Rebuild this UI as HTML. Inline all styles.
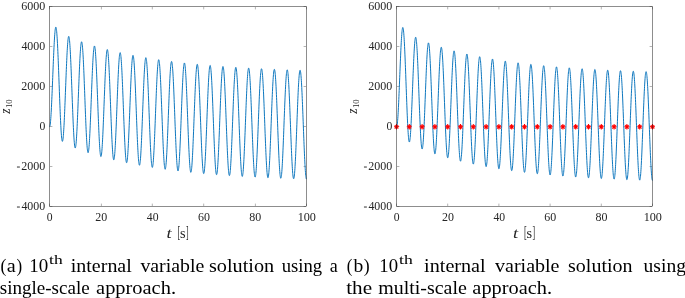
<!DOCTYPE html>
<html><head><meta charset="utf-8"><style>
html,body{margin:0;padding:0;background:#fff;}
body{width:685px;height:298px;overflow:hidden;}
svg{display:block;will-change:transform;}
text{font-family:"Liberation Serif",serif;}
.tl text{fill:#262626;}
.al text{fill:#262626;}
.al .zz{}
.cap text{fill:#000;}
</style></head><body>
<svg width="685" height="298" viewBox="0 0 685 298">
<path d="M50.0,206.50h2.4M306.0,206.50h-2.4M50.0,166.50h2.4M306.0,166.50h-2.4M50.0,126.50h2.4M306.0,126.50h-2.4M50.0,86.50h2.4M306.0,86.50h-2.4M50.0,46.50h2.4M306.0,46.50h-2.4M50.0,6.50h2.4M306.0,6.50h-2.4M49.50,206.0v-2.4M49.50,7.0v2.4M101.40,206.0v-2.4M101.40,7.0v2.4M152.30,206.0v-2.4M152.30,7.0v2.4M203.70,206.0v-2.4M203.70,7.0v2.4M255.40,206.0v-2.4M255.40,7.0v2.4M306.50,206.0v-2.4M306.50,7.0v2.4" stroke="#262626" stroke-width="0.35" fill="none"/>
<polyline points="49.50,126.50 49.63,126.65 49.76,126.57 49.89,126.28 50.01,125.78 50.14,125.06 50.27,124.14 50.40,123.02 50.53,121.69 50.66,120.18 50.78,118.48 50.91,116.61 51.04,114.57 51.17,112.37 51.30,110.02 51.43,107.53 51.56,104.91 51.68,102.18 51.81,99.34 51.94,96.40 52.07,93.38 52.20,90.30 52.33,87.16 52.46,83.97 52.58,80.76 52.71,77.53 52.84,74.30 52.97,71.08 53.10,67.89 53.23,64.73 53.35,61.62 53.48,58.58 53.61,55.62 53.74,52.74 53.87,49.97 54.00,47.31 54.13,44.77 54.25,42.37 54.38,40.12 54.51,38.02 54.64,36.08 54.77,34.31 54.90,32.72 55.03,31.32 55.15,30.12 55.28,29.11 55.41,28.30 55.54,27.70 55.67,27.30 55.80,27.12 55.92,27.16 56.05,27.40 56.18,27.86 56.31,28.53 56.44,29.40 56.57,30.49 56.70,31.78 56.82,33.26 56.95,34.94 57.08,36.81 57.21,38.85 57.34,41.07 57.47,43.45 57.60,45.99 57.72,48.67 57.85,51.48 57.98,54.43 58.11,57.48 58.24,60.64 58.37,63.89 58.50,67.22 58.62,70.61 58.75,74.05 58.88,77.54 59.01,81.05 59.14,84.57 59.27,88.09 59.39,91.60 59.52,95.08 59.65,98.51 59.78,101.90 59.91,105.21 60.04,108.45 60.17,111.59 60.29,114.63 60.42,117.56 60.55,120.35 60.68,123.01 60.81,125.53 60.94,127.88 61.06,130.07 61.19,132.08 61.32,133.92 61.45,135.56 61.58,137.01 61.71,138.26 61.84,139.30 61.96,140.13 62.09,140.76 62.22,141.17 62.35,141.36 62.48,141.34 62.61,141.11 62.74,140.66 62.86,140.00 62.99,139.14 63.12,138.06 63.25,136.79 63.38,135.32 63.51,133.67 63.63,131.83 63.76,129.82 63.89,127.64 64.02,125.31 64.15,122.83 64.28,120.21 64.41,117.46 64.53,114.60 64.66,111.64 64.79,108.58 64.92,105.44 65.05,102.24 65.18,98.98 65.31,95.68 65.43,92.36 65.56,89.02 65.69,85.68 65.82,82.36 65.95,79.06 66.08,75.80 66.20,72.59 66.33,69.45 66.46,66.38 66.59,63.41 66.72,60.54 66.85,57.79 66.98,55.16 67.10,52.67 67.23,50.32 67.36,48.13 67.49,46.11 67.62,44.26 67.75,42.59 67.88,41.10 68.00,39.81 68.13,38.72 68.26,37.84 68.39,37.16 68.52,36.69 68.65,36.43 68.78,36.39 68.90,36.56 69.03,36.95 69.16,37.55 69.29,38.35 69.42,39.37 69.55,40.59 69.67,42.01 69.80,43.62 69.93,45.42 70.06,47.40 70.19,49.56 70.32,51.88 70.45,54.35 70.57,56.98 70.70,59.74 70.83,62.62 70.96,65.62 71.09,68.72 71.22,71.92 71.34,75.19 71.47,78.53 71.60,81.92 71.73,85.35 71.86,88.81 71.99,92.28 72.12,95.75 72.24,99.21 72.37,102.64 72.50,106.03 72.63,109.36 72.76,112.63 72.89,115.82 73.02,118.92 73.14,121.92 73.27,124.80 73.40,127.55 73.53,130.17 73.66,132.64 73.79,134.95 73.91,137.10 74.04,139.08 74.17,140.87 74.30,142.47 74.43,143.88 74.56,145.10 74.69,146.10 74.81,146.90 74.94,147.49 75.07,147.86 75.20,148.02 75.33,147.97 75.46,147.70 75.59,147.22 75.71,146.53 75.84,145.63 75.97,144.52 76.10,143.22 76.23,141.72 76.36,140.03 76.48,138.16 76.61,136.12 76.74,133.91 76.87,131.55 77.00,129.04 77.13,126.39 77.26,123.62 77.38,120.73 77.51,117.74 77.64,114.65 77.77,111.49 77.90,108.26 78.03,104.98 78.16,101.65 78.28,98.30 78.41,94.94 78.54,91.58 78.67,88.23 78.80,84.90 78.93,81.62 79.06,78.39 79.18,75.22 79.31,72.14 79.44,69.14 79.57,66.25 79.70,63.47 79.83,60.82 79.95,58.31 80.08,55.94 80.21,53.73 80.34,51.69 80.47,49.82 80.60,48.12 80.73,46.62 80.85,45.31 80.98,44.20 81.11,43.30 81.24,42.60 81.37,42.11 81.50,41.84 81.62,41.77 81.75,41.93 81.88,42.30 82.01,42.88 82.14,43.67 82.27,44.67 82.40,45.87 82.52,47.27 82.65,48.87 82.78,50.65 82.91,52.61 83.04,54.75 83.17,57.06 83.30,59.52 83.42,62.12 83.55,64.87 83.68,67.74 83.81,70.72 83.94,73.81 84.07,76.99 84.19,80.24 84.32,83.57 84.45,86.94 84.58,90.36 84.71,93.81 84.84,97.26 84.97,100.72 85.09,104.16 85.22,107.58 85.35,110.96 85.48,114.28 85.61,117.54 85.74,120.71 85.87,123.80 85.99,126.78 86.12,129.65 86.25,132.39 86.38,135.00 86.51,137.45 86.64,139.75 86.77,141.89 86.89,143.85 87.02,145.63 87.15,147.23 87.28,148.62 87.41,149.82 87.54,150.82 87.66,151.61 87.79,152.18 87.92,152.55 88.05,152.69 88.18,152.63 88.31,152.35 88.44,151.86 88.56,151.15 88.69,150.24 88.82,149.13 88.95,147.81 89.08,146.30 89.21,144.61 89.34,142.73 89.46,140.68 89.59,138.46 89.72,136.09 89.85,133.56 89.98,130.91 90.11,128.12 90.23,125.22 90.36,122.22 90.49,119.13 90.62,115.96 90.75,112.72 90.88,109.42 91.01,106.09 91.13,102.73 91.26,99.36 91.39,95.99 91.52,92.63 91.65,89.29 91.78,86.00 91.91,82.76 92.03,79.59 92.16,76.49 92.29,73.49 92.42,70.59 92.55,67.81 92.68,65.15 92.80,62.62 92.93,60.25 93.06,58.03 93.19,55.98 93.32,54.10 93.45,52.40 93.58,50.88 93.70,49.57 93.83,48.45 93.96,47.54 94.09,46.83 94.22,46.33 94.35,46.05 94.47,45.98 94.60,46.13 94.73,46.49 94.86,47.06 94.99,47.84 95.12,48.83 95.25,50.03 95.37,51.42 95.50,53.01 95.63,54.79 95.76,56.75 95.89,58.88 96.02,61.17 96.15,63.63 96.27,66.23 96.40,68.96 96.53,71.82 96.66,74.80 96.79,77.88 96.92,81.05 97.05,84.30 97.17,87.62 97.30,90.99 97.43,94.40 97.56,97.84 97.69,101.29 97.82,104.74 97.94,108.17 98.07,111.58 98.20,114.95 98.33,118.27 98.46,121.52 98.59,124.69 98.72,127.77 98.84,130.74 98.97,133.61 99.10,136.34 99.23,138.94 99.36,141.39 99.49,143.68 99.62,145.81 99.74,147.77 99.87,149.54 100.00,151.13 100.13,152.52 100.26,153.72 100.39,154.70 100.51,155.48 100.64,156.05 100.77,156.41 100.90,156.55 101.03,156.48 101.16,156.20 101.29,155.70 101.41,154.99 101.54,154.07 101.67,152.95 101.80,151.63 101.93,150.11 102.06,148.41 102.19,146.53 102.31,144.47 102.44,142.25 102.57,139.87 102.70,137.34 102.83,134.68 102.96,131.89 103.08,128.98 103.21,125.97 103.34,122.87 103.47,119.70 103.60,116.45 103.73,113.15 103.86,109.81 103.98,106.45 104.11,103.07 104.24,99.69 104.37,96.33 104.50,92.99 104.63,89.69 104.75,86.44 104.88,83.26 105.01,80.16 105.14,77.16 105.27,74.25 105.40,71.46 105.53,68.80 105.65,66.27 105.78,63.89 105.91,61.66 106.04,59.60 106.17,57.72 106.30,56.01 106.43,54.49 106.55,53.17 106.68,52.05 106.81,51.13 106.94,50.42 107.07,49.92 107.20,49.63 107.33,49.55 107.45,49.69 107.58,50.05 107.71,50.62 107.84,51.39 107.97,52.38 108.10,53.57 108.22,54.96 108.35,56.54 108.48,58.31 108.61,60.27 108.74,62.39 108.87,64.68 109.00,67.13 109.12,69.72 109.25,72.45 109.38,75.31 109.51,78.28 109.64,81.36 109.77,84.52 109.89,87.77 110.02,91.08 110.15,94.45 110.28,97.85 110.41,101.28 110.54,104.73 110.67,108.17 110.79,111.61 110.92,115.01 111.05,118.37 111.18,121.69 111.31,124.93 111.44,128.10 111.57,131.17 111.69,134.14 111.82,137.00 111.95,139.73 112.08,142.32 112.21,144.77 112.34,147.06 112.47,149.18 112.59,151.13 112.72,152.90 112.85,154.48 112.98,155.87 113.11,157.06 113.24,158.04 113.36,158.82 113.49,159.38 113.62,159.74 113.75,159.87 113.88,159.80 114.01,159.51 114.14,159.00 114.26,158.29 114.39,157.37 114.52,156.24 114.65,154.92 114.78,153.40 114.91,151.69 115.03,149.80 115.16,147.74 115.29,145.51 115.42,143.12 115.55,140.59 115.68,137.92 115.81,135.13 115.93,132.22 116.06,129.21 116.19,126.10 116.32,122.92 116.45,119.67 116.58,116.37 116.71,113.03 116.83,109.66 116.96,106.27 117.09,102.89 117.22,99.52 117.35,96.17 117.48,92.87 117.61,89.62 117.73,86.44 117.86,83.33 117.99,80.32 118.12,77.41 118.25,74.62 118.38,71.95 118.50,69.41 118.63,67.03 118.76,64.80 118.89,62.74 119.02,60.85 119.15,59.14 119.28,57.61 119.40,56.29 119.53,55.16 119.66,54.24 119.79,53.52 119.92,53.01 120.05,52.72 120.18,52.64 120.30,52.78 120.43,53.13 120.56,53.69 120.69,54.47 120.82,55.45 120.95,56.63 121.07,58.02 121.20,59.60 121.33,61.36 121.46,63.31 121.59,65.43 121.72,67.72 121.85,70.16 121.97,72.75 122.10,75.48 122.23,78.33 122.36,81.30 122.49,84.37 122.62,87.53 122.74,90.77 122.87,94.08 123.00,97.44 123.13,100.84 123.26,104.27 123.39,107.71 123.52,111.15 123.64,114.58 123.77,117.98 123.90,121.34 124.03,124.65 124.16,127.89 124.29,131.05 124.42,134.12 124.54,137.09 124.67,139.94 124.80,142.66 124.93,145.25 125.06,147.69 125.19,149.98 125.31,152.10 125.44,154.05 125.57,155.81 125.70,157.39 125.83,158.77 125.96,159.96 126.09,160.94 126.21,161.71 126.34,162.27 126.47,162.62 126.60,162.75 126.73,162.67 126.86,162.38 126.99,161.87 127.11,161.15 127.24,160.22 127.37,159.09 127.50,157.76 127.63,156.24 127.76,154.53 127.89,152.64 128.01,150.57 128.14,148.34 128.27,145.95 128.40,143.41 128.53,140.74 128.66,137.94 128.78,135.03 128.91,132.01 129.04,128.90 129.17,125.72 129.30,122.46 129.43,119.16 129.56,115.81 129.68,112.44 129.81,109.05 129.94,105.66 130.07,102.29 130.20,98.94 130.33,95.63 130.45,92.38 130.58,89.19 130.71,86.08 130.84,83.07 130.97,80.15 131.10,77.35 131.23,74.68 131.35,72.15 131.48,69.76 131.61,67.52 131.74,65.46 131.87,63.56 132.00,61.85 132.13,60.32 132.25,58.99 132.38,57.86 132.51,56.93 132.64,56.21 132.77,55.70 132.90,55.41 133.03,55.32 133.15,55.46 133.28,55.80 133.41,56.36 133.54,57.13 133.67,58.11 133.80,59.29 133.92,60.67 134.05,62.25 134.18,64.01 134.31,65.95 134.44,68.07 134.57,70.36 134.70,72.79 134.82,75.38 134.95,78.10 135.08,80.95 135.21,83.92 135.34,86.98 135.47,90.14 135.59,93.38 135.72,96.68 135.85,100.04 135.98,103.44 136.11,106.86 136.24,110.30 136.37,113.74 136.49,117.16 136.62,120.56 136.75,123.91 136.88,127.22 137.01,130.45 137.14,133.61 137.27,136.68 137.39,139.64 137.52,142.49 137.65,145.21 137.78,147.80 137.91,150.24 138.04,152.52 138.16,154.63 138.29,156.58 138.42,158.34 138.55,159.91 138.68,161.29 138.81,162.47 138.94,163.45 139.06,164.22 139.19,164.78 139.32,165.12 139.45,165.25 139.58,165.17 139.71,164.87 139.84,164.36 139.96,163.64 140.09,162.71 140.22,161.57 140.35,160.24 140.48,158.71 140.61,157.00 140.74,155.10 140.86,153.03 140.99,150.79 141.12,148.40 141.25,145.86 141.38,143.19 141.51,140.39 141.63,137.47 141.76,134.45 141.89,131.34 142.02,128.15 142.15,124.89 142.28,121.58 142.41,118.23 142.53,114.85 142.66,111.46 142.79,108.07 142.92,104.69 143.05,101.34 143.18,98.03 143.31,94.78 143.43,91.59 143.56,88.47 143.69,85.45 143.82,82.54 143.95,79.73 144.08,77.06 144.20,74.52 144.33,72.12 144.46,69.89 144.59,67.82 144.72,65.92 144.85,64.20 144.98,62.68 145.10,61.34 145.23,60.21 145.36,59.27 145.49,58.55 145.62,58.04 145.75,57.74 145.88,57.65 146.00,57.78 146.13,58.13 146.26,58.68 146.39,59.45 146.52,60.42 146.65,61.60 146.77,62.98 146.90,64.55 147.03,66.31 147.16,68.25 147.29,70.37 147.42,72.65 147.55,75.08 147.67,77.66 147.80,80.38 147.93,83.23 148.06,86.19 148.19,89.25 148.32,92.41 148.44,95.64 148.57,98.94 148.70,102.30 148.83,105.69 148.96,109.11 149.09,112.55 149.22,115.98 149.34,119.40 149.47,122.80 149.60,126.15 149.73,129.45 149.86,132.68 149.99,135.84 150.12,138.90 150.24,141.86 150.37,144.71 150.50,147.43 150.63,150.01 150.76,152.44 150.89,154.72 151.01,156.84 151.14,158.78 151.27,160.54 151.40,162.11 151.53,163.48 151.66,164.66 151.79,165.63 151.91,166.40 152.04,166.95 152.17,167.29 152.30,167.42 152.43,167.33 152.56,167.03 152.69,166.52 152.81,165.79 152.94,164.86 153.07,163.73 153.20,162.39 153.33,160.86 153.46,159.14 153.59,157.24 153.71,155.17 153.84,152.93 153.97,150.53 154.10,147.99 154.23,145.31 154.36,142.51 154.48,139.59 154.61,136.57 154.74,133.45 154.87,130.26 155.00,127.00 155.13,123.69 155.26,120.33 155.38,116.95 155.51,113.56 155.64,110.16 155.77,106.78 155.90,103.43 156.03,100.12 156.16,96.86 156.28,93.66 156.41,90.55 156.54,87.53 156.67,84.61 156.80,81.80 156.93,79.12 157.05,76.58 157.18,74.18 157.31,71.94 157.44,69.87 157.57,67.97 157.70,66.25 157.83,64.72 157.95,63.38 158.08,62.24 158.21,61.31 158.34,60.58 158.47,60.07 158.60,59.77 158.72,59.68 158.85,59.80 158.98,60.14 159.11,60.70 159.24,61.46 159.37,62.43 159.50,63.61 159.62,64.98 159.75,66.55 159.88,68.31 160.01,70.25 160.14,72.36 160.27,74.64 160.40,77.07 160.52,79.65 160.65,82.37 160.78,85.21 160.91,88.17 161.04,91.23 161.17,94.38 161.30,97.61 161.42,100.91 161.55,104.26 161.68,107.65 161.81,111.07 161.94,114.50 162.07,117.93 162.19,121.35 162.32,124.74 162.45,128.09 162.58,131.39 162.71,134.62 162.84,137.77 162.97,140.83 163.09,143.79 163.22,146.63 163.35,149.35 163.48,151.93 163.61,154.36 163.74,156.64 163.87,158.75 163.99,160.69 164.12,162.44 164.25,164.01 164.38,165.39 164.51,166.56 164.64,167.53 164.76,168.29 164.89,168.84 165.02,169.18 165.15,169.31 165.28,169.22 165.41,168.91 165.54,168.40 165.66,167.67 165.79,166.74 165.92,165.60 166.05,164.26 166.18,162.72 166.31,161.00 166.44,159.10 166.56,157.03 166.69,154.78 166.82,152.39 166.95,149.84 167.08,147.16 167.21,144.35 167.33,141.43 167.46,138.41 167.59,135.29 167.72,132.09 167.85,128.83 167.98,125.52 168.11,122.16 168.23,118.78 168.36,115.38 168.49,111.98 168.62,108.60 168.75,105.24 168.88,101.93 169.00,98.67 169.13,95.47 169.26,92.35 169.39,89.33 169.52,86.40 169.65,83.60 169.78,80.91 169.90,78.37 170.03,75.97 170.16,73.73 170.29,71.65 170.42,69.75 170.55,68.03 170.68,66.50 170.80,65.16 170.93,64.02 171.06,63.08 171.19,62.35 171.32,61.83 171.45,61.53 171.57,61.44 171.70,61.56 171.83,61.90 171.96,62.45 172.09,63.21 172.22,64.18 172.35,65.35 172.47,66.72 172.60,68.29 172.73,70.05 172.86,71.98 172.99,74.09 173.12,76.36 173.25,78.80 173.37,81.37 173.50,84.09 173.63,86.93 173.76,89.88 173.89,92.94 174.02,96.09 174.14,99.32 174.27,102.62 174.40,105.97 174.53,109.35 174.66,112.77 174.79,116.20 174.92,119.63 175.04,123.04 175.17,126.43 175.30,129.78 175.43,133.08 175.56,136.30 175.69,139.45 175.82,142.51 175.94,145.47 176.07,148.31 176.20,151.02 176.33,153.60 176.46,156.03 176.59,158.30 176.72,160.41 176.84,162.35 176.97,164.10 177.10,165.67 177.23,167.04 177.36,168.21 177.49,169.18 177.61,169.94 177.74,170.49 177.87,170.83 178.00,170.95 178.13,170.86 178.26,170.55 178.39,170.03 178.51,169.30 178.64,168.36 178.77,167.22 178.90,165.88 179.03,164.35 179.16,162.62 179.28,160.72 179.41,158.64 179.54,156.40 179.67,154.00 179.80,151.45 179.93,148.77 180.06,145.96 180.18,143.03 180.31,140.00 180.44,136.89 180.57,133.69 180.70,130.42 180.83,127.10 180.96,123.75 181.08,120.36 181.21,116.96 181.34,113.56 181.47,110.18 181.60,106.82 181.73,103.50 181.85,100.24 181.98,97.04 182.11,93.92 182.24,90.89 182.37,87.97 182.50,85.16 182.63,82.47 182.75,79.93 182.88,77.53 183.01,75.28 183.14,73.20 183.27,71.30 183.40,69.57 183.53,68.04 183.65,66.70 183.78,65.55 183.91,64.62 184.04,63.88 184.17,63.37 184.30,63.06 184.43,62.96 184.55,63.09 184.68,63.42 184.81,63.97 184.94,64.73 185.07,65.70 185.20,66.87 185.32,68.24 185.45,69.80 185.58,71.55 185.71,73.49 185.84,75.60 185.97,77.87 186.10,80.30 186.22,82.87 186.35,85.58 186.48,88.42 186.61,91.38 186.74,94.43 186.87,97.58 187.00,100.81 187.12,104.10 187.25,107.45 187.38,110.83 187.51,114.25 187.64,117.67 187.77,121.10 187.89,124.52 188.02,127.90 188.15,131.25 188.28,134.54 188.41,137.77 188.54,140.92 188.67,143.97 188.79,146.92 188.92,149.76 189.05,152.47 189.18,155.05 189.31,157.48 189.44,159.75 189.56,161.86 189.69,163.79 189.82,165.54 189.95,167.11 190.08,168.47 190.21,169.64 190.34,170.61 190.46,171.37 190.59,171.92 190.72,172.25 190.85,172.37 190.98,172.28 191.11,171.97 191.24,171.45 191.36,170.72 191.49,169.78 191.62,168.63 191.75,167.29 191.88,165.75 192.01,164.03 192.14,162.12 192.26,160.04 192.39,157.80 192.52,155.39 192.65,152.85 192.78,150.16 192.91,147.35 193.03,144.42 193.16,141.39 193.29,138.27 193.42,135.07 193.55,131.81 193.68,128.49 193.81,125.13 193.93,121.74 194.06,118.34 194.19,114.94 194.32,111.55 194.45,108.19 194.58,104.87 194.70,101.60 194.83,98.40 194.96,95.28 195.09,92.25 195.22,89.33 195.35,86.51 195.48,83.83 195.60,81.28 195.73,78.88 195.86,76.63 195.99,74.55 196.12,72.64 196.25,70.92 196.38,69.38 196.50,68.04 196.63,66.89 196.76,65.95 196.89,65.22 197.02,64.70 197.15,64.39 197.27,64.29 197.40,64.41 197.53,64.75 197.66,65.29 197.79,66.05 197.92,67.01 198.05,68.18 198.17,69.55 198.30,71.12 198.43,72.87 198.56,74.80 198.69,76.90 198.82,79.17 198.95,81.60 199.07,84.17 199.20,86.88 199.33,89.72 199.46,92.67 199.59,95.73 199.72,98.87 199.84,102.10 199.97,105.39 200.10,108.73 200.23,112.12 200.36,115.53 200.49,118.96 200.62,122.38 200.74,125.79 200.87,129.18 201.00,132.52 201.13,135.81 201.26,139.04 201.39,142.19 201.52,145.24 201.64,148.19 201.77,151.03 201.90,153.74 202.03,156.31 202.16,158.74 202.29,161.01 202.41,163.11 202.54,165.04 202.67,166.79 202.80,168.36 202.93,169.72 203.06,170.89 203.19,171.86 203.31,172.61 203.44,173.16 203.57,173.49 203.70,173.61 203.83,173.51 203.96,173.20 204.09,172.68 204.21,171.95 204.34,171.01 204.47,169.86 204.60,168.52 204.73,166.98 204.86,165.25 204.98,163.34 205.11,161.26 205.24,159.01 205.37,156.61 205.50,154.06 205.63,151.37 205.76,148.56 205.88,145.63 206.01,142.60 206.14,139.48 206.27,136.28 206.40,133.01 206.53,129.69 206.66,126.32 206.78,122.94 206.91,119.53 207.04,116.13 207.17,112.74 207.30,109.38 207.43,106.06 207.56,102.79 207.68,99.59 207.81,96.47 207.94,93.43 208.07,90.50 208.20,87.69 208.33,85.00 208.45,82.45 208.58,80.05 208.71,77.80 208.84,75.72 208.97,73.81 209.10,72.08 209.23,70.54 209.35,69.20 209.48,68.05 209.61,67.11 209.74,66.38 209.87,65.85 210.00,65.54 210.12,65.45 210.25,65.56 210.38,65.90 210.51,66.44 210.64,67.20 210.77,68.16 210.90,69.33 211.02,70.69 211.15,72.26 211.28,74.00 211.41,75.93 211.54,78.04 211.67,80.31 211.80,82.73 211.92,85.31 212.05,88.01 212.18,90.85 212.31,93.80 212.44,96.85 212.57,100.00 212.69,103.22 212.82,106.51 212.95,109.85 213.08,113.24 213.21,116.65 213.34,120.07 213.47,123.49 213.59,126.90 213.72,130.29 213.85,133.63 213.98,136.92 214.11,140.14 214.24,143.29 214.37,146.34 214.49,149.29 214.62,152.13 214.75,154.83 214.88,157.41 215.01,159.83 215.14,162.10 215.27,164.20 215.39,166.13 215.52,167.88 215.65,169.44 215.78,170.81 215.91,171.97 216.04,172.94 216.16,173.69 216.29,174.24 216.42,174.57 216.55,174.69 216.68,174.59 216.81,174.28 216.94,173.75 217.06,173.02 217.19,172.07 217.32,170.93 217.45,169.58 217.58,168.04 217.71,166.31 217.84,164.40 217.96,162.32 218.09,160.07 218.22,157.67 218.35,155.11 218.48,152.43 218.61,149.61 218.73,146.68 218.86,143.65 218.99,140.52 219.12,137.32 219.25,134.05 219.38,130.73 219.51,127.37 219.63,123.97 219.76,120.57 219.89,117.17 220.02,113.78 220.15,110.41 220.28,107.09 220.41,103.82 220.53,100.62 220.66,97.49 220.79,94.46 220.92,91.53 221.05,88.72 221.18,86.03 221.30,83.47 221.43,81.07 221.56,78.82 221.69,76.74 221.82,74.83 221.95,73.10 222.08,71.56 222.20,70.21 222.33,69.06 222.46,68.12 222.59,67.38 222.72,66.86 222.85,66.55 222.98,66.45 223.10,66.57 223.23,66.90 223.36,67.44 223.49,68.19 223.62,69.16 223.75,70.32 223.87,71.69 224.00,73.25 224.13,74.99 224.26,76.92 224.39,79.03 224.52,81.29 224.65,83.72 224.77,86.29 224.90,89.00 225.03,91.83 225.16,94.78 225.29,97.83 225.42,100.97 225.55,104.19 225.67,107.48 225.80,110.83 225.93,114.21 226.06,117.62 226.19,121.04 226.32,124.46 226.44,127.87 226.57,131.25 226.70,134.59 226.83,137.88 226.96,141.10 227.09,144.25 227.22,147.30 227.34,150.25 227.47,153.08 227.60,155.79 227.73,158.36 227.86,160.78 227.99,163.05 228.11,165.15 228.24,167.08 228.37,168.83 228.50,170.38 228.63,171.75 228.76,172.92 228.89,173.88 229.01,174.63 229.14,175.17 229.27,175.50 229.40,175.62 229.53,175.52 229.66,175.21 229.79,174.68 229.91,173.95 230.04,173.00 230.17,171.85 230.30,170.51 230.43,168.97 230.56,167.24 230.69,165.32 230.81,163.24 230.94,160.99 231.07,158.58 231.20,156.03 231.33,153.34 231.46,150.52 231.58,147.59 231.71,144.56 231.84,141.43 231.97,138.23 232.10,134.96 232.23,131.63 232.36,128.27 232.48,124.88 232.61,121.47 232.74,118.07 232.87,114.68 233.00,111.31 233.13,107.99 233.25,104.72 233.38,101.51 233.51,98.39 233.64,95.35 233.77,92.42 233.90,89.60 234.03,86.91 234.15,84.36 234.28,81.96 234.41,79.70 234.54,77.62 234.67,75.71 234.80,73.98 234.93,72.44 235.05,71.09 235.18,69.94 235.31,69.00 235.44,68.26 235.57,67.73 235.70,67.42 235.82,67.32 235.95,67.44 236.08,67.76 236.21,68.31 236.34,69.06 236.47,70.02 236.60,71.19 236.72,72.55 236.85,74.11 236.98,75.85 237.11,77.78 237.24,79.88 237.37,82.15 237.50,84.57 237.62,87.14 237.75,89.85 237.88,92.68 238.01,95.63 238.14,98.68 238.27,101.82 238.40,105.04 238.52,108.33 238.65,111.67 238.78,115.05 238.91,118.46 239.04,121.88 239.17,125.30 239.29,128.71 239.42,132.09 239.55,135.43 239.68,138.72 239.81,141.94 239.94,145.08 240.07,148.13 240.19,151.08 240.32,153.91 240.45,156.62 240.58,159.18 240.71,161.61 240.84,163.87 240.97,165.97 241.09,167.90 241.22,169.65 241.35,171.20 241.48,172.57 241.61,173.73 241.74,174.69 241.86,175.45 241.99,175.99 242.12,176.32 242.25,176.43 242.38,176.33 242.51,176.02 242.64,175.49 242.76,174.75 242.89,173.81 243.02,172.66 243.15,171.31 243.28,169.77 243.41,168.04 243.53,166.12 243.66,164.04 243.79,161.79 243.92,159.38 244.05,156.83 244.18,154.14 244.31,151.32 244.43,148.39 244.56,145.35 244.69,142.22 244.82,139.02 244.95,135.75 245.08,132.42 245.21,129.06 245.33,125.66 245.46,122.26 245.59,118.85 245.72,115.46 245.85,112.09 245.98,108.77 246.10,105.50 246.23,102.29 246.36,99.16 246.49,96.13 246.62,93.20 246.75,90.38 246.88,87.69 247.00,85.13 247.13,82.72 247.26,80.47 247.39,78.39 247.52,76.48 247.65,74.74 247.78,73.20 247.90,71.85 248.03,70.70 248.16,69.76 248.29,69.02 248.42,68.49 248.55,68.18 248.68,68.08 248.80,68.19 248.93,68.52 249.06,69.06 249.19,69.81 249.32,70.77 249.45,71.94 249.57,73.30 249.70,74.86 249.83,76.60 249.96,78.53 250.09,80.63 250.22,82.89 250.35,85.32 250.47,87.88 250.60,90.59 250.73,93.42 250.86,96.37 250.99,99.42 251.12,102.56 251.25,105.78 251.37,109.06 251.50,112.40 251.63,115.78 251.76,119.19 251.89,122.61 252.02,126.03 252.14,129.44 252.27,132.82 252.40,136.16 252.53,139.44 252.66,142.66 252.79,145.80 252.92,148.85 253.04,151.80 253.17,154.63 253.30,157.33 253.43,159.90 253.56,162.32 253.69,164.59 253.81,166.69 253.94,168.62 254.07,170.36 254.20,171.92 254.33,173.28 254.46,174.44 254.59,175.40 254.71,176.15 254.84,176.70 254.97,177.02 255.10,177.14 255.23,177.04 255.36,176.72 255.49,176.19 255.61,175.46 255.74,174.51 255.87,173.36 256.00,172.01 256.13,170.47 256.26,168.73 256.38,166.82 256.51,164.73 256.64,162.48 256.77,160.07 256.90,157.52 257.03,154.83 257.16,152.01 257.28,149.08 257.41,146.04 257.54,142.91 257.67,139.71 257.80,136.43 257.93,133.11 258.06,129.74 258.18,126.35 258.31,122.94 258.44,119.53 258.57,116.14 258.70,112.77 258.83,109.45 258.95,106.17 259.08,102.97 259.21,99.84 259.34,96.80 259.47,93.87 259.60,91.05 259.73,88.36 259.85,85.80 259.98,83.39 260.11,81.14 260.24,79.05 260.37,77.14 260.50,75.41 260.63,73.87 260.75,72.52 260.88,71.36 261.01,70.42 261.14,69.68 261.27,69.15 261.40,68.84 261.52,68.73 261.65,68.85 261.78,69.18 261.91,69.72 262.04,70.47 262.17,71.43 262.30,72.59 262.42,73.95 262.55,75.51 262.68,77.25 262.81,79.18 262.94,81.28 263.07,83.54 263.20,85.96 263.32,88.53 263.45,91.23 263.58,94.06 263.71,97.01 263.84,100.06 263.97,103.20 264.10,106.42 264.22,109.70 264.35,113.04 264.48,116.42 264.61,119.83 264.74,123.25 264.87,126.66 264.99,130.07 265.12,133.45 265.25,136.79 265.38,140.07 265.51,143.29 265.64,146.43 265.77,149.48 265.89,152.43 266.02,155.26 266.15,157.96 266.28,160.53 266.41,162.95 266.54,165.21 266.66,167.31 266.79,169.24 266.92,170.98 267.05,172.54 267.18,173.90 267.31,175.06 267.44,176.02 267.56,176.77 267.69,177.31 267.82,177.64 267.95,177.75 268.08,177.65 268.21,177.33 268.34,176.80 268.46,176.07 268.59,175.12 268.72,173.97 268.85,172.62 268.98,171.07 269.11,169.34 269.24,167.43 269.36,165.34 269.49,163.09 269.62,160.68 269.75,158.12 269.88,155.43 270.01,152.61 270.13,149.67 270.26,146.64 270.39,143.51 270.52,140.30 270.65,137.03 270.78,133.70 270.91,130.33 271.03,126.94 271.16,123.53 271.29,120.12 271.42,116.73 271.55,113.36 271.68,110.03 271.81,106.76 271.93,103.55 272.06,100.42 272.19,97.39 272.32,94.45 272.45,91.63 272.58,88.94 272.70,86.38 272.83,83.97 272.96,81.72 273.09,79.63 273.22,77.72 273.35,75.99 273.48,74.44 273.60,73.09 273.73,71.94 273.86,70.99 273.99,70.25 274.12,69.72 274.25,69.41 274.38,69.31 274.50,69.42 274.63,69.75 274.76,70.28 274.89,71.04 275.02,71.99 275.15,73.16 275.27,74.52 275.40,76.07 275.53,77.82 275.66,79.74 275.79,81.84 275.92,84.10 276.05,86.52 276.17,89.09 276.30,91.79 276.43,94.62 276.56,97.57 276.69,100.62 276.82,103.75 276.94,106.97 277.07,110.26 277.20,113.60 277.33,116.97 277.46,120.38 277.59,123.80 277.72,127.22 277.84,130.62 277.97,134.00 278.10,137.34 278.23,140.62 278.36,143.84 278.49,146.98 278.62,150.03 278.74,152.97 278.87,155.80 279.00,158.50 279.13,161.07 279.26,163.49 279.39,165.75 279.51,167.85 279.64,169.78 279.77,171.52 279.90,173.07 280.03,174.44 280.16,175.60 280.29,176.56 280.41,177.31 280.54,177.84 280.67,178.17 280.80,178.28 280.93,178.18 281.06,177.86 281.19,177.34 281.31,176.59 281.44,175.65 281.57,174.50 281.70,173.14 281.83,171.60 281.96,169.87 282.09,167.95 282.21,165.86 282.34,163.61 282.47,161.20 282.60,158.64 282.73,155.95 282.86,153.13 282.98,150.19 283.11,147.16 283.24,144.03 283.37,140.82 283.50,137.54 283.63,134.22 283.76,130.85 283.88,127.45 284.01,124.04 284.14,120.64 284.27,117.24 284.40,113.87 284.53,110.55 284.65,107.27 284.78,104.06 284.91,100.93 285.04,97.89 285.17,94.96 285.30,92.14 285.43,89.45 285.55,86.89 285.68,84.48 285.81,82.23 285.94,80.14 286.07,78.22 286.20,76.49 286.33,74.94 286.45,73.59 286.58,72.44 286.71,71.49 286.84,70.75 286.97,70.22 287.10,69.91 287.23,69.80 287.35,69.91 287.48,70.24 287.61,70.78 287.74,71.53 287.87,72.49 288.00,73.65 288.12,75.01 288.25,76.56 288.38,78.31 288.51,80.23 288.64,82.33 288.77,84.59 288.90,87.01 289.02,89.58 289.15,92.28 289.28,95.11 289.41,98.05 289.54,101.10 289.67,104.24 289.80,107.46 289.92,110.74 290.05,114.08 290.18,117.45 290.31,120.86 290.44,124.28 290.57,127.69 290.69,131.10 290.82,134.48 290.95,137.81 291.08,141.10 291.21,144.31 291.34,147.45 291.47,150.50 291.59,153.44 291.72,156.27 291.85,158.98 291.98,161.54 292.11,163.96 292.24,166.22 292.37,168.32 292.49,170.24 292.62,171.99 292.75,173.54 292.88,174.90 293.01,176.06 293.14,177.02 293.26,177.77 293.39,178.31 293.52,178.63 293.65,178.75 293.78,178.64 293.91,178.33 294.04,177.80 294.16,177.06 294.29,176.11 294.42,174.95 294.55,173.60 294.68,172.06 294.81,170.32 294.94,168.41 295.06,166.32 295.19,164.06 295.32,161.65 295.45,159.10 295.58,156.40 295.71,153.58 295.83,150.65 295.96,147.61 296.09,144.48 296.22,141.27 296.35,137.99 296.48,134.67 296.61,131.30 296.73,127.90 296.86,124.49 296.99,121.08 297.12,117.69 297.25,114.32 297.38,110.99 297.50,107.71 297.63,104.51 297.76,101.38 297.89,98.34 298.02,95.40 298.15,92.58 298.28,89.89 298.40,87.33 298.53,84.92 298.66,82.66 298.79,80.58 298.92,78.66 299.05,76.93 299.18,75.38 299.30,74.03 299.43,72.87 299.56,71.93 299.69,71.18 299.82,70.65 299.95,70.34 300.07,70.23 300.20,70.35 300.33,70.67 300.46,71.21 300.59,71.96 300.72,72.91 300.85,74.08 300.97,75.44 301.10,76.99 301.23,78.73 301.36,80.66 301.49,82.75 301.62,85.02 301.75,87.43 301.87,90.00 302.00,92.70 302.13,95.53 302.26,98.47 302.39,101.52 302.52,104.66 302.64,107.88 302.77,111.16 302.90,114.50 303.03,117.87 303.16,121.28 303.29,124.69 303.42,128.11 303.54,131.51 303.67,134.89 303.80,138.23 303.93,141.51 304.06,144.73 304.19,147.87 304.32,150.91 304.44,153.86 304.57,156.68 304.70,159.39 304.83,161.95 304.96,164.37 305.09,166.63 305.22,168.73 305.34,170.65 305.47,172.39 305.60,173.95 305.73,175.31 305.86,176.47 305.99,177.43 306.11,178.17 306.24,178.71 306.37,179.04 306.50,179.15" fill="none" stroke="#0070bb" stroke-width="0.95" stroke-linejoin="round"/>
<rect x="49.5" y="6.5" width="257.0" height="200.0" fill="none" stroke="#262626" stroke-width="0.52"/>
<g class="tl"><text x="21.41" y="209.80" font-size="12.2" textLength="23.81" lengthAdjust="spacingAndGlyphs">4000</text><rect x="16.95" y="206.55" width="2.9" height="0.95" fill="#262626"/><text x="21.17" y="169.80" font-size="12.2" textLength="24.06" lengthAdjust="spacingAndGlyphs">2000</text><rect x="16.95" y="166.55" width="2.9" height="0.95" fill="#262626"/><text x="39.38" y="129.80" font-size="12.2" textLength="5.83" lengthAdjust="spacingAndGlyphs">0</text><text x="21.17" y="89.80" font-size="12.2" textLength="24.06" lengthAdjust="spacingAndGlyphs">2000</text><text x="21.41" y="49.80" font-size="12.2" textLength="23.81" lengthAdjust="spacingAndGlyphs">4000</text><text x="21.17" y="9.80" font-size="12.2" textLength="24.06" lengthAdjust="spacingAndGlyphs">6000</text><text x="46.83" y="220.60" font-size="12.2" textLength="5.83" lengthAdjust="spacingAndGlyphs">0</text><text x="95.17" y="220.60" font-size="12.2" textLength="11.96" lengthAdjust="spacingAndGlyphs">20</text><text x="146.82" y="220.60" font-size="12.2" textLength="11.70" lengthAdjust="spacingAndGlyphs">40</text><text x="197.97" y="220.60" font-size="12.2" textLength="11.96" lengthAdjust="spacingAndGlyphs">60</text><text x="249.37" y="220.60" font-size="12.2" textLength="11.96" lengthAdjust="spacingAndGlyphs">80</text><text x="297.65" y="220.60" font-size="12.2" textLength="18.28" lengthAdjust="spacingAndGlyphs">100</text></g>
<g class="al"><text x="166.46" y="237.80" font-size="14" textLength="5.13" lengthAdjust="spacingAndGlyphs" font-style="italic" class="it">t</text><text x="177.62" y="238.40" font-size="15.9" textLength="2.75" lengthAdjust="spacingAndGlyphs">[</text><text x="180.02" y="237.80" font-size="13.6" textLength="5.60" lengthAdjust="spacingAndGlyphs">s</text><text x="185.97" y="238.40" font-size="15.9" textLength="2.61" lengthAdjust="spacingAndGlyphs">]</text></g>
<g class="al" transform="translate(10.00,114.00) rotate(-90)"><text x="0.13" y="0.00" font-size="14" textLength="5.19" lengthAdjust="spacingAndGlyphs" font-style="italic" class="zz">z</text><text x="5.92" y="1.90" font-size="8.6" textLength="8.62" lengthAdjust="spacingAndGlyphs">10</text></g>
<path d="M397.0,206.50h2.4M652.0,206.50h-2.4M397.0,166.50h2.4M652.0,166.50h-2.4M397.0,126.50h2.4M652.0,126.50h-2.4M397.0,86.50h2.4M652.0,86.50h-2.4M397.0,46.50h2.4M652.0,46.50h-2.4M397.0,6.50h2.4M652.0,6.50h-2.4M396.50,206.0v-2.4M396.50,7.0v2.4M447.70,206.0v-2.4M447.70,7.0v2.4M498.90,206.0v-2.4M498.90,7.0v2.4M550.10,206.0v-2.4M550.10,7.0v2.4M601.30,206.0v-2.4M601.30,7.0v2.4M652.50,206.0v-2.4M652.50,7.0v2.4" stroke="#262626" stroke-width="0.35" fill="none"/>
<polyline points="396.50,126.50 396.63,126.65 396.76,126.59 396.88,126.31 397.01,125.81 397.14,125.11 397.27,124.19 397.40,123.08 397.52,121.76 397.65,120.26 397.78,118.57 397.91,116.70 398.04,114.67 398.16,112.48 398.29,110.14 398.42,107.66 398.55,105.05 398.68,102.32 398.80,99.48 398.93,96.56 399.06,93.55 399.19,90.47 399.32,87.34 399.44,84.16 399.57,80.95 399.70,77.73 399.83,74.51 399.96,71.30 400.08,68.11 400.21,64.96 400.34,61.86 400.47,58.83 400.60,55.87 400.72,53.00 400.85,50.24 400.98,47.59 401.11,45.06 401.24,42.66 401.36,40.41 401.49,38.32 401.62,36.39 401.75,34.63 401.88,33.05 402.00,31.65 402.13,30.45 402.26,29.45 402.39,28.65 402.52,28.05 402.64,27.67 402.77,27.49 402.90,27.53 403.03,27.78 403.16,28.25 403.28,28.92 403.41,29.81 403.54,30.90 403.67,32.19 403.80,33.68 403.92,35.37 404.05,37.24 404.18,39.29 404.31,41.51 404.44,43.90 404.56,46.44 404.69,49.13 404.82,51.95 404.95,54.90 405.08,57.96 405.20,61.13 405.33,64.38 405.46,67.71 405.59,71.11 405.72,74.56 405.84,78.05 405.97,81.57 406.10,85.09 406.23,88.62 406.36,92.13 406.48,95.62 406.61,99.06 406.74,102.45 406.87,105.77 407.00,109.01 407.12,112.16 407.25,115.20 407.38,118.13 407.51,120.94 407.64,123.60 407.76,126.12 407.89,128.48 408.02,130.67 408.15,132.69 408.28,134.53 408.40,136.18 408.53,137.63 408.66,138.88 408.79,139.93 408.92,140.77 409.04,141.40 409.17,141.81 409.30,142.02 409.43,142.00 409.56,141.77 409.68,141.33 409.81,140.67 409.94,139.81 410.07,138.74 410.20,137.47 410.32,136.01 410.45,134.36 410.58,132.53 410.71,130.52 410.84,128.35 410.96,126.02 411.09,123.54 411.22,120.92 411.35,118.18 411.48,115.33 411.60,112.37 411.73,109.31 411.86,106.18 411.99,102.98 412.12,99.73 412.24,96.44 412.37,93.11 412.50,89.78 412.63,86.44 412.76,83.12 412.88,79.83 413.01,76.57 413.14,73.37 413.27,70.23 413.40,67.17 413.52,64.20 413.65,61.34 413.78,58.59 413.91,55.96 414.04,53.47 414.16,51.13 414.29,48.95 414.42,46.93 414.55,45.08 414.68,43.41 414.80,41.93 414.93,40.64 415.06,39.56 415.19,38.67 415.32,38.00 415.44,37.53 415.57,37.28 415.70,37.24 415.83,37.42 415.96,37.81 416.08,38.41 416.21,39.22 416.34,40.24 416.47,41.46 416.60,42.88 416.72,44.50 416.85,46.30 416.98,48.29 417.11,50.45 417.24,52.77 417.36,55.25 417.49,57.87 417.62,60.64 417.75,63.52 417.88,66.53 418.00,69.63 418.13,72.83 418.26,76.10 418.39,79.45 418.52,82.84 418.64,86.27 418.77,89.74 418.90,93.21 419.03,96.68 419.16,100.14 419.28,103.58 419.41,106.97 419.54,110.31 419.67,113.58 419.80,116.78 419.92,119.88 420.05,122.88 420.18,125.76 420.31,128.52 420.44,131.14 420.56,133.61 420.69,135.92 420.82,138.08 420.95,140.05 421.08,141.85 421.20,143.46 421.33,144.87 421.46,146.08 421.59,147.09 421.72,147.89 421.84,148.48 421.97,148.86 422.10,149.02 422.23,148.97 422.36,148.70 422.48,148.23 422.61,147.54 422.74,146.64 422.87,145.53 423.00,144.23 423.12,142.74 423.25,141.05 423.38,139.19 423.51,137.15 423.64,134.94 423.76,132.58 423.89,130.07 424.02,127.43 424.15,124.66 424.28,121.77 424.40,118.78 424.53,115.70 424.66,112.54 424.79,109.31 424.92,106.03 425.04,102.71 425.17,99.36 425.30,96.00 425.43,92.64 425.56,89.29 425.68,85.96 425.81,82.68 425.94,79.45 426.07,76.29 426.20,73.21 426.32,70.22 426.45,67.33 426.58,64.55 426.71,61.90 426.84,59.39 426.96,57.03 427.09,54.82 427.22,52.78 427.35,50.90 427.48,49.22 427.60,47.71 427.73,46.41 427.86,45.30 427.99,44.40 428.12,43.70 428.24,43.21 428.37,42.94 428.50,42.88 428.63,43.04 428.76,43.41 428.88,43.99 429.01,44.78 429.14,45.78 429.27,46.99 429.40,48.39 429.52,49.99 429.65,51.77 429.78,53.74 429.91,55.88 430.04,58.18 430.16,60.65 430.29,63.25 430.42,66.00 430.55,68.87 430.68,71.86 430.80,74.94 430.93,78.13 431.06,81.38 431.19,84.71 431.32,88.09 431.44,91.51 431.57,94.95 431.70,98.41 431.83,101.87 431.96,105.32 432.08,108.73 432.21,112.11 432.34,115.44 432.47,118.69 432.60,121.87 432.72,124.96 432.85,127.94 432.98,130.81 433.11,133.56 433.24,136.16 433.36,138.62 433.49,140.92 433.62,143.06 433.75,145.03 433.88,146.81 434.00,148.40 434.13,149.80 434.26,151.00 434.39,152.00 434.52,152.79 434.64,153.36 434.77,153.73 434.90,153.88 435.03,153.82 435.16,153.54 435.28,153.05 435.41,152.34 435.54,151.43 435.67,150.32 435.80,149.01 435.92,147.50 436.05,145.80 436.18,143.93 436.31,141.88 436.44,139.66 436.56,137.29 436.69,134.77 436.82,132.11 436.95,129.33 437.08,126.43 437.20,123.43 437.33,120.34 437.46,117.17 437.59,113.93 437.72,110.64 437.84,107.31 437.97,103.95 438.10,100.58 438.23,97.20 438.36,93.85 438.48,90.51 438.61,87.22 438.74,83.98 438.87,80.81 439.00,77.72 439.12,74.72 439.25,71.82 439.38,69.03 439.51,66.38 439.64,63.85 439.76,61.48 439.89,59.26 440.02,57.21 440.15,55.33 440.28,53.63 440.40,52.12 440.53,50.80 440.66,49.69 440.79,48.77 440.92,48.07 441.04,47.57 441.17,47.29 441.30,47.23 441.43,47.37 441.56,47.73 441.68,48.31 441.81,49.09 441.94,50.08 442.07,51.28 442.20,52.67 442.32,54.26 442.45,56.04 442.58,58.00 442.71,60.13 442.84,62.43 442.96,64.88 443.09,67.48 443.22,70.22 443.35,73.08 443.48,76.06 443.60,79.14 443.73,82.31 443.86,85.56 443.99,88.88 444.12,92.25 444.24,95.66 444.37,99.10 444.50,102.55 444.63,106.00 444.76,109.44 444.88,112.85 445.01,116.22 445.14,119.54 445.27,122.79 445.40,125.96 445.52,129.04 445.65,132.02 445.78,134.88 445.91,137.62 446.04,140.21 446.16,142.67 446.29,144.96 446.42,147.09 446.55,149.05 446.68,150.82 446.80,152.41 446.93,153.80 447.06,155.00 447.19,155.99 447.32,156.77 447.44,157.34 447.57,157.70 447.70,157.84 447.83,157.77 447.96,157.48 448.08,156.99 448.21,156.28 448.34,155.36 448.47,154.24 448.60,152.92 448.72,151.41 448.85,149.70 448.98,147.82 449.11,145.76 449.24,143.54 449.36,141.16 449.49,138.63 449.62,135.97 449.75,133.18 449.88,130.28 450.00,127.27 450.13,124.17 450.26,120.99 450.39,117.75 450.52,114.45 450.64,111.12 450.77,107.75 450.90,104.37 451.03,100.99 451.16,97.63 451.28,94.29 451.41,90.99 451.54,87.75 451.67,84.57 451.80,81.47 451.92,78.46 452.05,75.56 452.18,72.77 452.31,70.10 452.44,67.58 452.56,65.20 452.69,62.97 452.82,60.91 452.95,59.03 453.08,57.32 453.20,55.81 453.33,54.48 453.46,53.36 453.59,52.44 453.72,51.73 453.84,51.23 453.97,50.94 454.10,50.87 454.23,51.01 454.36,51.37 454.48,51.93 454.61,52.71 454.74,53.70 454.87,54.89 455.00,56.28 455.12,57.86 455.25,59.63 455.38,61.59 455.51,63.71 455.64,66.00 455.76,68.45 455.89,71.05 456.02,73.78 456.15,76.64 456.28,79.61 456.40,82.68 456.53,85.85 456.66,89.10 456.79,92.41 456.92,95.77 457.04,99.18 457.17,102.61 457.30,106.06 457.43,109.50 457.56,112.93 457.68,116.34 457.81,119.70 457.94,123.02 458.07,126.26 458.20,129.43 458.32,132.50 458.45,135.47 458.58,138.33 458.71,141.06 458.84,143.65 458.96,146.10 459.09,148.39 459.22,150.52 459.35,152.47 459.48,154.24 459.60,155.82 459.73,157.21 459.86,158.39 459.99,159.38 460.12,160.16 460.24,160.72 460.37,161.07 460.50,161.21 460.63,161.14 460.76,160.85 460.88,160.34 461.01,159.63 461.14,158.71 461.27,157.58 461.40,156.26 461.52,154.74 461.65,153.03 461.78,151.14 461.91,149.08 462.04,146.85 462.16,144.47 462.29,141.94 462.42,139.27 462.55,136.47 462.68,133.56 462.80,130.55 462.93,127.45 463.06,124.27 463.19,121.02 463.32,117.71 463.44,114.37 463.57,111.00 463.70,107.62 463.83,104.24 463.96,100.87 464.08,97.52 464.21,94.22 464.34,90.97 464.47,87.79 464.60,84.68 464.72,81.67 464.85,78.76 464.98,75.97 465.11,73.30 465.24,70.77 465.36,68.38 465.49,66.15 465.62,64.09 465.75,62.20 465.88,60.49 466.00,58.97 466.13,57.64 466.26,56.51 466.39,55.59 466.52,54.87 466.64,54.37 466.77,54.08 466.90,54.00 467.03,54.13 467.16,54.48 467.28,55.05 467.41,55.82 467.54,56.80 467.67,57.99 467.80,59.37 467.92,60.95 468.05,62.72 468.18,64.67 468.31,66.79 468.44,69.08 468.56,71.52 468.69,74.11 468.82,76.84 468.95,79.69 469.08,82.66 469.20,85.73 469.33,88.89 469.46,92.13 469.59,95.44 469.72,98.80 469.84,102.20 469.97,105.63 470.10,109.07 470.23,112.51 470.36,115.94 470.48,119.34 470.61,122.70 470.74,126.01 470.87,129.25 471.00,132.41 471.12,135.48 471.25,138.45 471.38,141.30 471.51,144.03 471.64,146.62 471.76,149.06 471.89,151.34 472.02,153.46 472.15,155.41 472.28,157.18 472.40,158.75 472.53,160.14 472.66,161.32 472.79,162.30 472.92,163.07 473.04,163.64 473.17,163.98 473.30,164.12 473.43,164.04 473.56,163.74 473.68,163.24 473.81,162.52 473.94,161.59 474.07,160.46 474.20,159.13 474.32,157.61 474.45,155.90 474.58,154.00 474.71,151.94 474.84,149.71 474.96,147.32 475.09,144.78 475.22,142.11 475.35,139.31 475.48,136.40 475.60,133.38 475.73,130.28 475.86,127.09 475.99,123.84 476.12,120.53 476.24,117.18 476.37,113.81 476.50,110.42 476.63,107.03 476.76,103.66 476.88,100.31 477.01,97.01 477.14,93.75 477.27,90.57 477.40,87.46 477.52,84.44 477.65,81.53 477.78,78.73 477.91,76.06 478.04,73.52 478.16,71.13 478.29,68.90 478.42,66.83 478.55,64.94 478.68,63.22 478.80,61.70 478.93,60.37 479.06,59.24 479.19,58.31 479.32,57.59 479.44,57.08 479.57,56.78 479.70,56.70 479.83,56.83 479.96,57.18 480.08,57.74 480.21,58.51 480.34,59.49 480.47,60.67 480.60,62.05 480.72,63.62 480.85,65.39 480.98,67.33 481.11,69.45 481.24,71.73 481.36,74.17 481.49,76.76 481.62,79.48 481.75,82.33 481.88,85.29 482.00,88.36 482.13,91.52 482.26,94.76 482.39,98.06 482.52,101.42 482.64,104.82 482.77,108.24 482.90,111.68 483.03,115.12 483.16,118.54 483.28,121.94 483.41,125.29 483.54,128.60 483.67,131.83 483.80,134.99 483.92,138.06 484.05,141.02 484.18,143.87 484.31,146.59 484.44,149.18 484.56,151.62 484.69,153.90 484.82,156.02 484.95,157.96 485.08,159.72 485.20,161.29 485.33,162.67 485.46,163.85 485.59,164.83 485.72,165.60 485.84,166.16 485.97,166.50 486.10,166.63 486.23,166.55 486.36,166.25 486.48,165.74 486.61,165.02 486.74,164.09 486.87,162.96 487.00,161.62 487.12,160.09 487.25,158.38 487.38,156.48 487.51,154.41 487.64,152.18 487.76,149.79 487.89,147.25 488.02,144.57 488.15,141.77 488.28,138.85 488.40,135.83 488.53,132.72 488.66,129.53 488.79,126.28 488.92,122.97 489.04,119.61 489.17,116.24 489.30,112.85 489.43,109.46 489.56,106.08 489.68,102.73 489.81,99.42 489.94,96.16 490.07,92.97 490.20,89.86 490.32,86.84 490.45,83.92 490.58,81.12 490.71,78.44 490.84,75.90 490.96,73.51 491.09,71.27 491.22,69.20 491.35,67.31 491.48,65.59 491.60,64.06 491.73,62.73 491.86,61.59 491.99,60.66 492.12,59.94 492.24,59.43 492.37,59.13 492.50,59.04 492.63,59.17 492.76,59.51 492.88,60.07 493.01,60.84 493.14,61.81 493.27,62.99 493.40,64.37 493.52,65.94 493.65,67.70 493.78,69.64 493.91,71.75 494.04,74.03 494.16,76.47 494.29,79.05 494.42,81.77 494.55,84.62 494.68,87.58 494.80,90.64 494.93,93.80 495.06,97.03 495.19,100.33 495.32,103.69 495.44,107.08 495.57,110.50 495.70,113.94 495.83,117.37 495.96,120.79 496.08,124.19 496.21,127.54 496.34,130.84 496.47,134.07 496.60,137.23 496.72,140.29 496.85,143.25 496.98,146.10 497.11,148.82 497.24,151.40 497.36,153.83 497.49,156.11 497.62,158.23 497.75,160.17 497.88,161.93 498.00,163.50 498.13,164.87 498.26,166.05 498.39,167.02 498.52,167.79 498.64,168.34 498.77,168.68 498.90,168.81 499.03,168.73 499.16,168.42 499.28,167.91 499.41,167.19 499.54,166.25 499.67,165.12 499.80,163.78 499.92,162.25 500.05,160.53 500.18,158.63 500.31,156.56 500.44,154.32 500.56,151.93 500.69,149.38 500.82,146.71 500.95,143.90 501.08,140.98 501.20,137.96 501.33,134.84 501.46,131.65 501.59,128.39 501.72,125.08 501.84,121.72 501.97,118.34 502.10,114.95 502.23,111.56 502.36,108.18 502.48,104.82 502.61,101.51 502.74,98.25 502.87,95.06 503.00,91.94 503.12,88.92 503.25,86.00 503.38,83.19 503.51,80.51 503.64,77.97 503.76,75.58 503.89,73.34 504.02,71.26 504.15,69.36 504.28,67.64 504.40,66.11 504.53,64.77 504.66,63.64 504.79,62.70 504.92,61.98 505.04,61.46 505.17,61.16 505.30,61.07 505.43,61.20 505.56,61.54 505.68,62.09 505.81,62.85 505.94,63.83 506.07,65.00 506.20,66.38 506.32,67.95 506.45,69.70 506.58,71.64 506.71,73.75 506.84,76.03 506.96,78.46 507.09,81.04 507.22,83.76 507.35,86.60 507.48,89.56 507.60,92.62 507.73,95.77 507.86,99.01 507.99,102.30 508.12,105.65 508.24,109.05 508.37,112.46 508.50,115.90 508.63,119.33 508.76,122.74 508.88,126.14 509.01,129.49 509.14,132.78 509.27,136.02 509.40,139.17 509.52,142.23 509.65,145.19 509.78,148.03 509.91,150.74 510.04,153.32 510.16,155.76 510.29,158.03 510.42,160.14 510.55,162.08 510.68,163.84 510.80,165.41 510.93,166.78 511.06,167.95 511.19,168.92 511.32,169.69 511.44,170.24 511.57,170.58 511.70,170.70 511.83,170.61 511.96,170.31 512.08,169.79 512.21,169.07 512.34,168.13 512.47,166.99 512.60,165.65 512.72,164.12 512.85,162.40 512.98,160.50 513.11,158.42 513.24,156.18 513.36,153.78 513.49,151.24 513.62,148.56 513.75,145.75 513.88,142.83 514.00,139.80 514.13,136.68 514.26,133.49 514.39,130.23 514.52,126.91 514.64,123.55 514.77,120.17 514.90,116.78 515.03,113.38 515.16,110.00 515.28,106.64 515.41,103.32 515.54,100.06 515.67,96.87 515.80,93.75 515.92,90.72 516.05,87.80 516.18,84.99 516.31,82.31 516.44,79.77 516.56,77.37 516.69,75.13 516.82,73.05 516.95,71.15 517.08,69.43 517.20,67.89 517.33,66.55 517.46,65.41 517.59,64.48 517.72,63.75 517.84,63.23 517.97,62.92 518.10,62.83 518.23,62.96 518.36,63.29 518.48,63.85 518.61,64.61 518.74,65.58 518.87,66.75 519.00,68.12 519.12,69.69 519.25,71.44 519.38,73.38 519.51,75.49 519.64,77.76 519.76,80.19 519.89,82.77 520.02,85.48 520.15,88.33 520.28,91.28 520.40,94.34 520.53,97.49 520.66,100.72 520.79,104.01 520.92,107.36 521.04,110.75 521.17,114.17 521.30,117.60 521.43,121.03 521.56,124.44 521.68,127.83 521.81,131.18 521.94,134.47 522.07,137.70 522.20,140.85 522.32,143.91 522.45,146.87 522.58,149.71 522.71,152.42 522.84,155.00 522.96,157.43 523.09,159.70 523.22,161.81 523.35,163.74 523.48,165.50 523.60,167.06 523.73,168.44 523.86,169.61 523.99,170.58 524.12,171.34 524.24,171.89 524.37,172.22 524.50,172.34 524.63,172.25 524.76,171.95 524.88,171.43 525.01,170.70 525.14,169.76 525.27,168.62 525.40,167.28 525.52,165.74 525.65,164.02 525.78,162.11 525.91,160.04 526.04,157.79 526.16,155.39 526.29,152.85 526.42,150.16 526.55,147.35 526.68,144.43 526.80,141.40 526.93,138.28 527.06,135.08 527.19,131.82 527.32,128.50 527.44,125.14 527.57,121.76 527.70,118.36 527.83,114.96 527.96,111.58 528.08,108.22 528.21,104.90 528.34,101.64 528.47,98.44 528.60,95.32 528.72,92.29 528.85,89.36 528.98,86.55 529.11,83.87 529.24,81.32 529.36,78.92 529.49,76.68 529.62,74.60 529.75,72.70 529.88,70.97 530.00,69.44 530.13,68.09 530.26,66.95 530.39,66.01 530.52,65.28 530.64,64.76 530.77,64.46 530.90,64.36 531.03,64.48 531.16,64.82 531.28,65.37 531.41,66.13 531.54,67.09 531.67,68.27 531.80,69.64 531.92,71.20 532.05,72.95 532.18,74.89 532.31,76.99 532.44,79.27 532.56,81.69 532.69,84.27 532.82,86.98 532.95,89.82 533.08,92.77 533.20,95.83 533.33,98.98 533.46,102.21 533.59,105.50 533.72,108.85 533.84,112.23 533.97,115.65 534.10,119.07 534.23,122.50 534.36,125.91 534.48,129.30 534.61,132.65 534.74,135.94 534.87,139.17 535.00,142.31 535.12,145.37 535.25,148.32 535.38,151.16 535.51,153.87 535.64,156.45 535.76,158.88 535.89,161.15 536.02,163.26 536.15,165.19 536.28,166.94 536.40,168.50 536.53,169.87 536.66,171.04 536.79,172.01 536.92,172.77 537.04,173.32 537.17,173.65 537.30,173.77 537.43,173.68 537.56,173.37 537.68,172.85 537.81,172.12 537.94,171.18 538.07,170.03 538.20,168.69 538.32,167.15 538.45,165.43 538.58,163.52 538.71,161.44 538.84,159.20 538.96,156.79 539.09,154.25 539.22,151.56 539.35,148.75 539.48,145.82 539.60,142.79 539.73,139.67 539.86,136.47 539.99,133.20 540.12,129.88 540.24,126.52 540.37,123.14 540.50,119.74 540.63,116.34 540.76,112.95 540.88,109.59 541.01,106.27 541.14,103.00 541.27,99.80 541.40,96.68 541.52,93.65 541.65,90.72 541.78,87.91 541.91,85.23 542.04,82.68 542.16,80.28 542.29,78.03 542.42,75.95 542.55,74.04 542.68,72.32 542.80,70.78 542.93,69.43 543.06,68.29 543.19,67.35 543.32,66.62 543.44,66.10 543.57,65.79 543.70,65.69 543.83,65.81 543.96,66.14 544.08,66.69 544.21,67.45 544.34,68.41 544.47,69.58 544.60,70.95 544.72,72.51 544.85,74.26 544.98,76.20 545.11,78.30 545.24,80.57 545.36,83.00 545.49,85.57 545.62,88.28 545.75,91.12 545.88,94.07 546.00,97.13 546.13,100.27 546.26,103.50 546.39,106.79 546.52,110.13 546.64,113.52 546.77,116.93 546.90,120.36 547.03,123.78 547.16,127.19 547.28,130.58 547.41,133.92 547.54,137.21 547.67,140.44 547.80,143.58 547.92,146.64 548.05,149.59 548.18,152.43 548.31,155.14 548.44,157.71 548.56,160.14 548.69,162.41 548.82,164.51 548.95,166.44 549.08,168.19 549.20,169.75 549.33,171.12 549.46,172.29 549.59,173.25 549.72,174.01 549.84,174.56 549.97,174.89 550.10,175.01 550.23,174.91 550.36,174.60 550.48,174.08 550.61,173.35 550.74,172.41 550.87,171.26 551.00,169.92 551.12,168.38 551.25,166.65 551.38,164.74 551.51,162.66 551.64,160.41 551.76,158.01 551.89,155.46 552.02,152.77 552.15,149.96 552.28,147.03 552.40,144.00 552.53,140.88 552.66,137.67 552.79,134.41 552.92,131.08 553.04,127.72 553.17,124.33 553.30,120.93 553.43,117.53 553.56,114.14 553.68,110.78 553.81,107.46 553.94,104.19 554.07,100.99 554.20,97.86 554.32,94.83 554.45,91.90 554.58,89.09 554.71,86.40 554.84,83.85 554.96,81.45 555.09,79.20 555.22,77.12 555.35,75.21 555.48,73.48 555.60,71.94 555.73,70.60 555.86,69.45 555.99,68.51 556.12,67.78 556.24,67.25 556.37,66.94 556.50,66.85 556.63,66.96 556.76,67.30 556.88,67.84 557.01,68.60 557.14,69.56 557.27,70.73 557.40,72.09 557.52,73.66 557.65,75.40 557.78,77.33 557.91,79.44 558.04,81.71 558.16,84.13 558.29,86.70 558.42,89.41 558.55,92.25 558.68,95.20 558.80,98.25 558.93,101.40 559.06,104.62 559.19,107.91 559.32,111.25 559.44,114.64 559.57,118.05 559.70,121.47 559.83,124.89 559.96,128.30 560.08,131.69 560.21,135.03 560.34,138.32 560.47,141.54 560.60,144.69 560.72,147.74 560.85,150.69 560.98,153.52 561.11,156.23 561.24,158.81 561.36,161.23 561.49,163.50 561.62,165.60 561.75,167.53 561.88,169.28 562.00,170.84 562.13,172.21 562.26,173.37 562.39,174.34 562.52,175.09 562.64,175.64 562.77,175.97 562.90,176.08 563.03,175.99 563.16,175.68 563.28,175.15 563.41,174.42 563.54,173.47 563.67,172.33 563.80,170.98 563.92,169.44 564.05,167.71 564.18,165.80 564.31,163.72 564.44,161.47 564.56,159.07 564.69,156.51 564.82,153.83 564.95,151.01 565.08,148.08 565.20,145.05 565.33,141.92 565.46,138.72 565.59,135.45 565.72,132.13 565.84,128.76 565.97,125.37 566.10,121.97 566.23,118.57 566.36,115.18 566.48,111.81 566.61,108.49 566.74,105.22 566.87,102.02 567.00,98.89 567.12,95.86 567.25,92.93 567.38,90.12 567.51,87.43 567.64,84.87 567.76,82.47 567.89,80.22 568.02,78.14 568.15,76.23 568.28,74.50 568.40,72.96 568.53,71.61 568.66,70.46 568.79,69.52 568.92,68.78 569.04,68.26 569.17,67.95 569.30,67.85 569.43,67.97 569.56,68.30 569.68,68.84 569.81,69.59 569.94,70.56 570.07,71.72 570.20,73.09 570.32,74.65 570.45,76.39 570.58,78.32 570.71,80.43 570.84,82.69 570.96,85.12 571.09,87.69 571.22,90.40 571.35,93.23 571.48,96.18 571.60,99.23 571.73,102.37 571.86,105.59 571.99,108.88 572.12,112.22 572.24,115.61 572.37,119.02 572.50,122.44 572.63,125.86 572.76,129.27 572.88,132.65 573.01,135.99 573.14,139.28 573.27,142.50 573.40,145.65 573.52,148.70 573.65,151.65 573.78,154.48 573.91,157.19 574.04,159.76 574.16,162.18 574.29,164.45 574.42,166.55 574.55,168.48 574.68,170.23 574.80,171.78 574.93,173.15 575.06,174.32 575.19,175.28 575.32,176.03 575.44,176.57 575.57,176.90 575.70,177.02 575.83,176.92 575.96,176.61 576.08,176.08 576.21,175.35 576.34,174.40 576.47,173.25 576.60,171.91 576.72,170.36 576.85,168.64 576.98,166.72 577.11,164.64 577.24,162.39 577.36,159.98 577.49,157.43 577.62,154.74 577.75,151.92 577.88,148.99 578.00,145.96 578.13,142.83 578.26,139.63 578.39,136.36 578.52,133.03 578.64,129.67 578.77,126.28 578.90,122.87 579.03,119.47 579.16,116.08 579.28,112.71 579.41,109.39 579.54,106.12 579.67,102.91 579.80,99.79 579.92,96.75 580.05,93.82 580.18,91.00 580.31,88.31 580.44,85.76 580.56,83.35 580.69,81.10 580.82,79.02 580.95,77.11 581.08,75.38 581.20,73.84 581.33,72.49 581.46,71.34 581.59,70.40 581.72,69.66 581.84,69.13 581.97,68.82 582.10,68.72 582.23,68.84 582.36,69.16 582.48,69.71 582.61,70.46 582.74,71.42 582.87,72.59 583.00,73.95 583.12,75.51 583.25,77.25 583.38,79.18 583.51,81.28 583.64,83.55 583.76,85.97 583.89,88.54 584.02,91.25 584.15,94.08 584.28,97.03 584.40,100.08 584.53,103.22 584.66,106.44 584.79,109.73 584.92,113.07 585.04,116.45 585.17,119.86 585.30,123.28 585.43,126.70 585.56,130.11 585.68,133.49 585.81,136.83 585.94,140.12 586.07,143.34 586.20,146.48 586.32,149.53 586.45,152.48 586.58,155.31 586.71,158.02 586.84,160.58 586.96,163.01 587.09,165.27 587.22,167.37 587.35,169.30 587.48,171.05 587.60,172.60 587.73,173.97 587.86,175.13 587.99,176.09 588.12,176.85 588.24,177.39 588.37,177.72 588.50,177.83 588.63,177.73 588.76,177.42 588.88,176.89 589.01,176.15 589.14,175.21 589.27,174.06 589.40,172.71 589.52,171.17 589.65,169.44 589.78,167.52 589.91,165.44 590.04,163.19 590.16,160.78 590.29,158.23 590.42,155.54 590.55,152.72 590.68,149.79 590.80,146.75 590.93,143.62 591.06,140.42 591.19,137.15 591.32,133.82 591.44,130.46 591.57,127.06 591.70,123.66 591.83,120.25 591.96,116.86 592.08,113.49 592.21,110.17 592.34,106.90 592.47,103.69 592.60,100.56 592.72,97.53 592.85,94.60 592.98,91.78 593.11,89.09 593.24,86.53 593.36,84.12 593.49,81.87 593.62,79.79 593.75,77.88 593.88,76.14 594.00,74.60 594.13,73.25 594.26,72.10 594.39,71.16 594.52,70.42 594.64,69.89 594.77,69.58 594.90,69.48 595.03,69.59 595.16,69.92 595.28,70.46 595.41,71.21 595.54,72.17 595.67,73.34 595.80,74.70 595.92,76.26 596.05,78.00 596.18,79.93 596.31,82.03 596.44,84.29 596.56,86.72 596.69,89.28 596.82,91.99 596.95,94.82 597.08,97.77 597.20,100.82 597.33,103.96 597.46,107.18 597.59,110.46 597.72,113.80 597.84,117.18 597.97,120.59 598.10,124.01 598.23,127.43 598.36,130.84 598.48,134.22 598.61,137.56 598.74,140.84 598.87,144.06 599.00,147.20 599.12,150.25 599.25,153.20 599.38,156.03 599.51,158.73 599.64,161.30 599.76,163.72 599.89,165.99 600.02,168.09 600.15,170.02 600.28,171.76 600.40,173.32 600.53,174.68 600.66,175.84 600.79,176.80 600.92,177.55 601.04,178.10 601.17,178.42 601.30,178.54 601.43,178.44 601.56,178.12 601.68,177.59 601.81,176.86 601.94,175.91 602.07,174.76 602.20,173.41 602.32,171.87 602.45,170.13 602.58,168.22 602.71,166.13 602.84,163.88 602.96,161.47 603.09,158.92 603.22,156.23 603.35,153.41 603.48,150.48 603.60,147.44 603.73,144.31 603.86,141.10 603.99,137.83 604.12,134.51 604.24,131.14 604.37,127.75 604.50,124.34 604.63,120.93 604.76,117.54 604.88,114.17 605.01,110.85 605.14,107.57 605.27,104.37 605.40,101.24 605.52,98.20 605.65,95.27 605.78,92.45 605.91,89.76 606.04,87.20 606.16,84.79 606.29,82.54 606.42,80.45 606.55,78.54 606.68,76.81 606.80,75.27 606.93,73.91 607.06,72.76 607.19,71.82 607.32,71.08 607.44,70.55 607.57,70.24 607.70,70.13 607.83,70.25 607.96,70.58 608.08,71.12 608.21,71.87 608.34,72.83 608.47,73.99 608.60,75.35 608.72,76.91 608.85,78.65 608.98,80.58 609.11,82.68 609.24,84.94 609.36,87.36 609.49,89.93 609.62,92.63 609.75,95.46 609.88,98.41 610.00,101.46 610.13,104.60 610.26,107.82 610.39,111.10 610.52,114.44 610.64,117.82 610.77,121.23 610.90,124.65 611.03,128.06 611.16,131.47 611.28,134.85 611.41,138.19 611.54,141.47 611.67,144.69 611.80,147.83 611.92,150.88 612.05,153.83 612.18,156.66 612.31,159.36 612.44,161.93 612.56,164.35 612.69,166.61 612.82,168.71 612.95,170.64 613.08,172.38 613.20,173.94 613.33,175.30 613.46,176.46 613.59,177.42 613.72,178.17 613.84,178.71 613.97,179.04 614.10,179.15 614.23,179.05 614.36,178.73 614.48,178.20 614.61,177.47 614.74,176.52 614.87,175.37 615.00,174.02 615.12,172.47 615.25,170.74 615.38,168.83 615.51,166.74 615.64,164.48 615.76,162.08 615.89,159.52 616.02,156.83 616.15,154.01 616.28,151.07 616.40,148.04 616.53,144.91 616.66,141.70 616.79,138.43 616.92,135.10 617.04,131.73 617.17,128.34 617.30,124.93 617.43,121.52 617.56,118.13 617.68,114.76 617.81,111.43 617.94,108.16 618.07,104.95 618.20,101.82 618.32,98.79 618.45,95.85 618.58,93.03 618.71,90.34 618.84,87.78 618.96,85.37 619.09,83.12 619.22,81.03 619.35,79.12 619.48,77.39 619.60,75.84 619.73,74.49 619.86,73.34 619.99,72.39 620.12,71.65 620.24,71.12 620.37,70.81 620.50,70.71 620.63,70.82 620.76,71.15 620.88,71.68 621.01,72.44 621.14,73.39 621.27,74.56 621.40,75.92 621.52,77.47 621.65,79.22 621.78,81.14 621.91,83.24 622.04,85.50 622.16,87.92 622.29,90.49 622.42,93.19 622.55,96.02 622.68,98.97 622.80,102.02 622.93,105.15 623.06,108.37 623.19,111.66 623.32,115.00 623.44,118.37 623.57,121.78 623.70,125.20 623.83,128.62 623.96,132.02 624.08,135.40 624.21,138.74 624.34,142.02 624.47,145.24 624.60,148.38 624.72,151.43 624.85,154.37 624.98,157.20 625.11,159.90 625.24,162.47 625.36,164.89 625.49,167.15 625.62,169.25 625.75,171.18 625.88,172.92 626.00,174.47 626.13,175.84 626.26,177.00 626.39,177.96 626.52,178.71 626.64,179.24 626.77,179.57 626.90,179.68 627.03,179.58 627.16,179.26 627.28,178.73 627.41,177.99 627.54,177.05 627.67,175.90 627.80,174.54 627.92,173.00 628.05,171.27 628.18,169.35 628.31,167.26 628.44,165.01 628.56,162.60 628.69,160.04 628.82,157.35 628.95,154.53 629.08,151.59 629.20,148.56 629.33,145.43 629.46,142.22 629.59,138.94 629.72,135.62 629.84,132.25 629.97,128.85 630.10,125.44 630.23,122.04 630.36,118.64 630.48,115.27 630.61,111.95 630.74,108.67 630.87,105.46 631.00,102.33 631.12,99.29 631.25,96.36 631.38,93.54 631.51,90.85 631.64,88.29 631.76,85.88 631.89,83.63 632.02,81.54 632.15,79.62 632.28,77.89 632.40,76.34 632.53,74.99 632.66,73.84 632.79,72.89 632.92,72.15 633.04,71.62 633.17,71.31 633.30,71.20 633.43,71.31 633.56,71.64 633.68,72.18 633.81,72.93 633.94,73.89 634.07,75.05 634.20,76.41 634.32,77.96 634.45,79.71 634.58,81.63 634.71,83.73 634.84,85.99 634.96,88.41 635.09,90.98 635.22,93.68 635.35,96.51 635.48,99.45 635.60,102.50 635.73,105.64 635.86,108.86 635.99,112.14 636.12,115.48 636.24,118.85 636.37,122.26 636.50,125.68 636.63,129.09 636.76,132.50 636.88,135.88 637.01,139.21 637.14,142.50 637.27,145.71 637.40,148.85 637.52,151.90 637.65,154.84 637.78,157.67 637.91,160.38 638.04,162.94 638.16,165.36 638.29,167.62 638.42,169.72 638.55,171.64 638.68,173.39 638.80,174.94 638.93,176.30 639.06,177.46 639.19,178.42 639.32,179.17 639.44,179.71 639.57,180.03 639.70,180.15 639.83,180.04 639.96,179.73 640.08,179.20 640.21,178.46 640.34,177.51 640.47,176.35 640.60,175.00 640.72,173.46 640.85,171.72 640.98,169.81 641.11,167.72 641.24,165.46 641.36,163.05 641.49,160.50 641.62,157.80 641.75,154.98 641.88,152.05 642.00,149.01 642.13,145.88 642.26,142.67 642.39,139.39 642.52,136.07 642.64,132.70 642.77,129.30 642.90,125.89 643.03,122.48 643.16,119.09 643.28,115.72 643.41,112.39 643.54,109.11 643.67,105.91 643.80,102.78 643.92,99.74 644.05,96.80 644.18,93.98 644.31,91.29 644.44,88.73 644.56,86.32 644.69,84.06 644.82,81.98 644.95,80.06 645.08,78.33 645.20,76.78 645.33,75.43 645.46,74.27 645.59,73.33 645.72,72.58 645.84,72.05 645.97,71.74 646.10,71.63 646.23,71.75 646.36,72.07 646.48,72.61 646.61,73.36 646.74,74.31 646.87,75.48 647.00,76.84 647.12,78.39 647.25,80.13 647.38,82.06 647.51,84.15 647.64,86.42 647.76,88.83 647.89,91.40 648.02,94.10 648.15,96.93 648.28,99.87 648.40,102.92 648.53,106.06 648.66,109.28 648.79,112.56 648.92,115.90 649.04,119.27 649.17,122.68 649.30,126.09 649.43,129.51 649.56,132.91 649.68,136.29 649.81,139.63 649.94,142.91 650.07,146.13 650.20,149.27 650.32,152.31 650.45,155.26 650.58,158.08 650.71,160.79 650.84,163.35 650.96,165.77 651.09,168.03 651.22,170.13 651.35,172.05 651.48,173.79 651.60,175.35 651.73,176.71 651.86,177.87 651.99,178.83 652.12,179.57 652.24,180.11 652.37,180.44 652.50,180.55" fill="none" stroke="#0070bb" stroke-width="0.95" stroke-linejoin="round"/>
<path d="M394.00,126.80h5.0M396.50,124.00v5.6M394.70,125.00l3.6,3.6M394.70,128.60l3.6,-3.6M406.80,126.80h5.0M409.30,124.00v5.6M407.50,125.00l3.6,3.6M407.50,128.60l3.6,-3.6M419.60,126.80h5.0M422.10,124.00v5.6M420.30,125.00l3.6,3.6M420.30,128.60l3.6,-3.6M432.40,126.80h5.0M434.90,124.00v5.6M433.10,125.00l3.6,3.6M433.10,128.60l3.6,-3.6M445.20,126.80h5.0M447.70,124.00v5.6M445.90,125.00l3.6,3.6M445.90,128.60l3.6,-3.6M458.00,126.80h5.0M460.50,124.00v5.6M458.70,125.00l3.6,3.6M458.70,128.60l3.6,-3.6M470.80,126.80h5.0M473.30,124.00v5.6M471.50,125.00l3.6,3.6M471.50,128.60l3.6,-3.6M483.60,126.80h5.0M486.10,124.00v5.6M484.30,125.00l3.6,3.6M484.30,128.60l3.6,-3.6M496.40,126.80h5.0M498.90,124.00v5.6M497.10,125.00l3.6,3.6M497.10,128.60l3.6,-3.6M509.20,126.80h5.0M511.70,124.00v5.6M509.90,125.00l3.6,3.6M509.90,128.60l3.6,-3.6M522.00,126.80h5.0M524.50,124.00v5.6M522.70,125.00l3.6,3.6M522.70,128.60l3.6,-3.6M534.80,126.80h5.0M537.30,124.00v5.6M535.50,125.00l3.6,3.6M535.50,128.60l3.6,-3.6M547.60,126.80h5.0M550.10,124.00v5.6M548.30,125.00l3.6,3.6M548.30,128.60l3.6,-3.6M560.40,126.80h5.0M562.90,124.00v5.6M561.10,125.00l3.6,3.6M561.10,128.60l3.6,-3.6M573.20,126.80h5.0M575.70,124.00v5.6M573.90,125.00l3.6,3.6M573.90,128.60l3.6,-3.6M586.00,126.80h5.0M588.50,124.00v5.6M586.70,125.00l3.6,3.6M586.70,128.60l3.6,-3.6M598.80,126.80h5.0M601.30,124.00v5.6M599.50,125.00l3.6,3.6M599.50,128.60l3.6,-3.6M611.60,126.80h5.0M614.10,124.00v5.6M612.30,125.00l3.6,3.6M612.30,128.60l3.6,-3.6M624.40,126.80h5.0M626.90,124.00v5.6M625.10,125.00l3.6,3.6M625.10,128.60l3.6,-3.6M637.20,126.80h5.0M639.70,124.00v5.6M637.90,125.00l3.6,3.6M637.90,128.60l3.6,-3.6M650.00,126.80h5.0M652.50,124.00v5.6M650.70,125.00l3.6,3.6M650.70,128.60l3.6,-3.6" stroke="#ff0000" stroke-width="1.05" fill="none"/>
<rect x="396.5" y="6.5" width="256.0" height="200.0" fill="none" stroke="#262626" stroke-width="0.52"/>
<g class="tl"><text x="368.41" y="209.80" font-size="12.2" textLength="23.81" lengthAdjust="spacingAndGlyphs">4000</text><rect x="363.95" y="206.55" width="2.9" height="0.95" fill="#262626"/><text x="368.17" y="169.80" font-size="12.2" textLength="24.06" lengthAdjust="spacingAndGlyphs">2000</text><rect x="363.95" y="166.55" width="2.9" height="0.95" fill="#262626"/><text x="386.38" y="129.80" font-size="12.2" textLength="5.83" lengthAdjust="spacingAndGlyphs">0</text><text x="368.17" y="89.80" font-size="12.2" textLength="24.06" lengthAdjust="spacingAndGlyphs">2000</text><text x="368.41" y="49.80" font-size="12.2" textLength="23.81" lengthAdjust="spacingAndGlyphs">4000</text><text x="368.17" y="9.80" font-size="12.2" textLength="24.06" lengthAdjust="spacingAndGlyphs">6000</text><text x="393.83" y="220.60" font-size="12.2" textLength="5.83" lengthAdjust="spacingAndGlyphs">0</text><text x="441.97" y="220.60" font-size="12.2" textLength="11.96" lengthAdjust="spacingAndGlyphs">20</text><text x="493.42" y="220.60" font-size="12.2" textLength="11.70" lengthAdjust="spacingAndGlyphs">40</text><text x="544.37" y="220.60" font-size="12.2" textLength="11.96" lengthAdjust="spacingAndGlyphs">60</text><text x="595.57" y="220.60" font-size="12.2" textLength="11.96" lengthAdjust="spacingAndGlyphs">80</text><text x="643.65" y="220.60" font-size="12.2" textLength="18.28" lengthAdjust="spacingAndGlyphs">100</text></g>
<g class="al"><text x="512.96" y="237.80" font-size="14" textLength="5.13" lengthAdjust="spacingAndGlyphs" font-style="italic" class="it">t</text><text x="524.12" y="238.40" font-size="15.9" textLength="2.75" lengthAdjust="spacingAndGlyphs">[</text><text x="526.53" y="237.80" font-size="13.6" textLength="5.60" lengthAdjust="spacingAndGlyphs">s</text><text x="532.47" y="238.40" font-size="15.9" textLength="2.61" lengthAdjust="spacingAndGlyphs">]</text></g>
<g class="al" transform="translate(357.00,114.00) rotate(-90)"><text x="0.13" y="0.00" font-size="14" textLength="5.19" lengthAdjust="spacingAndGlyphs" font-style="italic" class="zz">z</text><text x="5.92" y="1.90" font-size="8.6" textLength="8.62" lengthAdjust="spacingAndGlyphs">10</text></g>
<g class="cap"><text x="0.49" y="271.70" font-size="19.5" textLength="5.89" lengthAdjust="spacingAndGlyphs">(</text><text x="6.89" y="271.70" font-size="18.8" textLength="8.99" lengthAdjust="spacingAndGlyphs">a</text><text x="16.49" y="271.70" font-size="19.5" textLength="5.64" lengthAdjust="spacingAndGlyphs">)</text><text x="29.29" y="271.70" font-size="18.4" textLength="18.97" lengthAdjust="spacingAndGlyphs">10</text><text x="49.12" y="264.20" font-size="13.5" textLength="13.61" lengthAdjust="spacingAndGlyphs">th</text><text x="70.80" y="271.70" font-size="18.8" textLength="60.98" lengthAdjust="spacingAndGlyphs">internal</text><text x="140.40" y="271.70" font-size="18.8" textLength="63.90" lengthAdjust="spacingAndGlyphs">variable</text><text x="208.99" y="271.70" font-size="18.8" textLength="65.16" lengthAdjust="spacingAndGlyphs">solution</text><text x="281.71" y="271.70" font-size="18.8" textLength="40.40" lengthAdjust="spacingAndGlyphs">using</text><text x="329.76" y="271.70" font-size="18.8" textLength="7.99" lengthAdjust="spacingAndGlyphs">a</text><text x="-0.26" y="293.70" font-size="18.8" textLength="89.94" lengthAdjust="spacingAndGlyphs">single-scale</text><text x="96.09" y="293.70" font-size="18.8" textLength="79.93" lengthAdjust="spacingAndGlyphs">approach.</text><text x="346.72" y="271.70" font-size="19.5" textLength="5.64" lengthAdjust="spacingAndGlyphs">(</text><text x="353.40" y="271.70" font-size="18.8" textLength="9.78" lengthAdjust="spacingAndGlyphs">b</text><text x="363.67" y="271.70" font-size="19.5" textLength="5.89" lengthAdjust="spacingAndGlyphs">)</text><text x="379.31" y="271.70" font-size="18.4" textLength="18.74" lengthAdjust="spacingAndGlyphs">10</text><text x="399.02" y="264.20" font-size="13.5" textLength="13.72" lengthAdjust="spacingAndGlyphs">th</text><text x="424.10" y="271.70" font-size="18.8" textLength="61.59" lengthAdjust="spacingAndGlyphs">internal</text><text x="495.00" y="271.70" font-size="18.8" textLength="64.51" lengthAdjust="spacingAndGlyphs">variable</text><text x="568.10" y="271.70" font-size="18.8" textLength="64.35" lengthAdjust="spacingAndGlyphs">solution</text><text x="643.60" y="271.70" font-size="18.8" textLength="42.33" lengthAdjust="spacingAndGlyphs">using</text><text x="346.19" y="293.70" font-size="18.8" textLength="25.88" lengthAdjust="spacingAndGlyphs">the</text><text x="378.20" y="293.70" font-size="18.8" textLength="88.66" lengthAdjust="spacingAndGlyphs">multi-scale</text><text x="472.39" y="293.70" font-size="18.8" textLength="79.63" lengthAdjust="spacingAndGlyphs">approach.</text></g>
</svg>
</body></html>
